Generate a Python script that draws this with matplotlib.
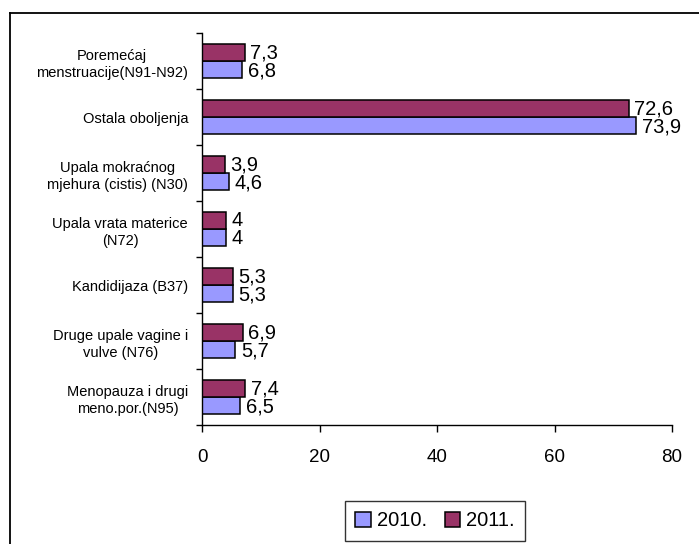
import numpy as np
import matplotlib.pyplot as plt
from matplotlib.lines import Line2D

plt.rcParams['font.family'] = ['Liberation Sans', 'DejaVu Sans']

categories = [
    "Poremećaj\nmenstruacije(N91-N92)",
    "Ostala oboljenja",
    "Upala mokraćnog\nmjehura (cistis) (N30)",
    "Upala vrata materice\n(N72)",
    "Kandidijaza (B37)",
    "Druge upale vagine i\nvulve (N76)",
    "Menopauza i drugi\nmeno.por.(N95)",
]
values_2010 = [6.8, 73.9, 4.6, 4, 5.3, 5.7, 6.5]
values_2011 = [7.3, 72.6, 3.9, 4, 5.3, 6.9, 7.4]
labels_2010 = ["6,8", "73,9", "4,6", "4", "5,3", "5,7", "6,5"]
labels_2011 = ["7,3", "72,6", "3,9", "4", "5,3", "6,9", "7,4"]

W, H = 699, 544
fig = plt.figure(figsize=(W / 100, H / 100), dpi=100)
ax = fig.add_axes([202 / W, 1 - 425 / H, 470 / W, 392 / H])

y = np.arange(len(categories))
h = 0.295
bars10 = ax.barh(y + h / 2, values_2010, height=h, color='#9999FF',
                 edgecolor='black', linewidth=1.1, label='2010.')
bars11 = ax.barh(y - h / 2, values_2011, height=h, color='#993366',
                 edgecolor='black', linewidth=1.1, label='2011.')

for bar, txt in zip(bars10, labels_2010):
    ax.annotate(txt, (bar.get_width(), bar.get_y() + bar.get_height() / 2),
                xytext=(4, -1), textcoords='offset points',
                ha='left', va='center', fontsize=14.5)
for bar, txt in zip(bars11, labels_2011):
    ax.annotate(txt, (bar.get_width(), bar.get_y() + bar.get_height() / 2),
                xytext=(4, 0), textcoords='offset points',
                ha='left', va='center', fontsize=14.5)

ax.set_xlim(0, 80)
ax.set_ylim(len(categories) - 0.5, -0.5)
ax.set_xticks([0, 20, 40, 60, 80])
ax.tick_params(axis='x', direction='out', length=5, width=1, labelsize=13.5, pad=12)

ax.set_yticks(y)
ax.set_yticklabels(categories, fontsize=10.5, linespacing=1.35)
for lab in ax.get_yticklabels():
    lab.set_multialignment('center')
ax.set_yticks(np.arange(-0.5, len(categories), 1), minor=True)
ax.tick_params(axis='y', which='major', length=0, pad=10)
ax.tick_params(axis='y', which='minor', direction='out', length=4, width=1)

for side in ['top', 'right']:
    ax.spines[side].set_visible(False)
for side in ['left', 'bottom']:
    ax.spines[side].set_linewidth(1)

leg = fig.legend(handles=[bars10, bars11], labels=['2010.', '2011.'],
                 loc='center', bbox_to_anchor=(435 / W, 1 - 521 / H),
                 ncol=2, fontsize=14.5, frameon=True, fancybox=False,
                 edgecolor='black', handlelength=0.75, handleheight=0.75,
                 handletextpad=0.3, columnspacing=0.9, borderpad=0.5,
                 borderaxespad=0)
leg.get_frame().set_linewidth(1)

# outer chart border (left and top visible in the reference)
fig.add_artist(Line2D([10 / W, 10 / W], [0, 1 - 13 / H], color='black', linewidth=1.3))
fig.add_artist(Line2D([10 / W, 1], [1 - 13 / H, 1 - 13 / H], color='black', linewidth=1.3))

fig.savefig('out.png', dpi=100)
